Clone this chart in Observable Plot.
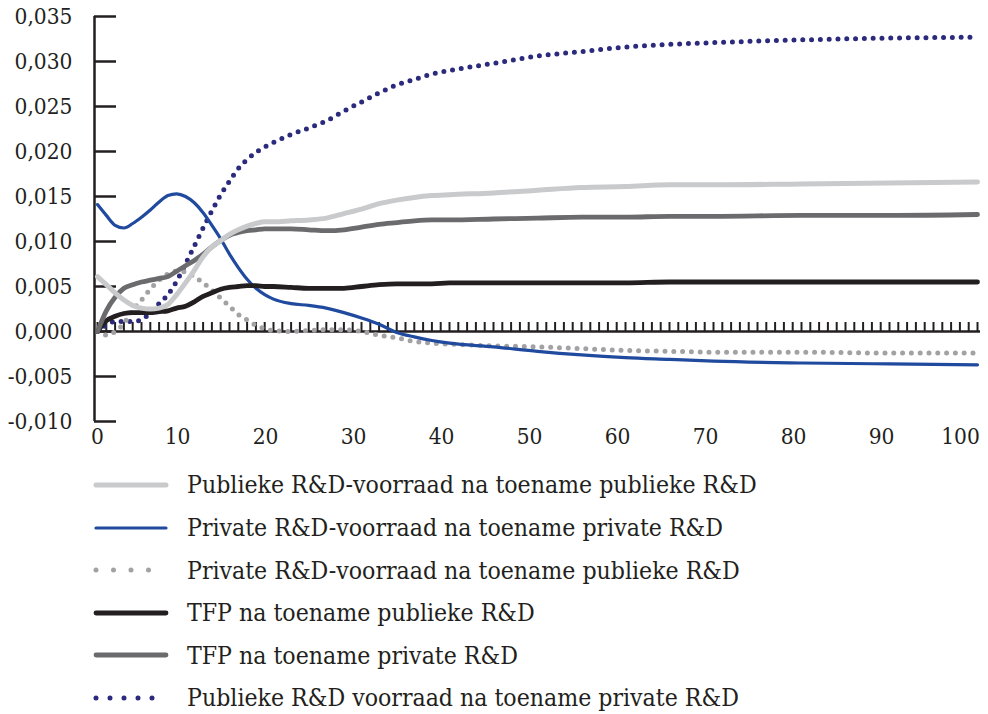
<!DOCTYPE html>
<html>
<head>
<meta charset="utf-8">
<script src="https://cdn.jsdelivr.net/npm/d3@7"></script>
<script src="https://cdn.jsdelivr.net/npm/@observablehq/plot@0.6"></script>
<style>
  body { margin: 0; background: #fff; }
  #wrap { position: relative; width: 988px; height: 714px; font-family: "DejaVu Serif Condensed", "DejaVu Serif", serif; font-stretch: condensed; color: #231f20; }
  #legend { position: absolute; left: 0; top: 455px; padding-top: 8.7px; }
  .row { height: 42.6px; display: flex; align-items: center; }
  .row svg { margin-left: 92px; margin-right: 17px; }
  .row span { font-size: 24.6px; white-space: nowrap; }
</style>
</head>
<body>
<div id="wrap"><div id="chart"></div><div id="legend"></div></div>
<script>
// Periods (years after the shock)
const periods = [0,1,2,3,4,5,6,7,8,9,10,11,12,13,14,15,16,17,18,19,20,22,24,26,28,30,32,34,36,38,40,45,50,55,60,65,70,80,90,100];

// Series values
const publiekeVoorraadNaPubliek = [0.0061,0.0052,0.0043,0.0035,0.0029,0.0026,0.0025,0.0026,0.0030,0.0041,0.0054,0.0068,0.0083,0.0094,0.0101,0.0108,0.0113,0.0117,0.0120,0.0122,0.0122,0.0123,0.0124,0.0126,0.0131,0.0136,0.0142,0.0146,0.0149,0.0151,0.0152,0.0154,0.0157,0.0160,0.0161,0.0163,0.0163,0.0164,0.0165,0.0166];
const privateVoorraadNaPrivate = [0.0141,0.0129,0.0118,0.0115,0.0120,0.0127,0.0135,0.0144,0.0151,0.0153,0.0150,0.0143,0.0132,0.0118,0.0103,0.0086,0.0071,0.0058,0.0048,0.0041,0.0036,0.0031,0.0029,0.0026,0.0021,0.0015,0.0008,-0.0001,-0.0006,-0.0010,-0.0013,-0.0017,-0.0022,-0.0026,-0.0029,-0.0031,-0.0033,-0.0035,-0.0036,-0.0037];
const privateVoorraadNaPubliek = [0.0000,-0.0004,0.0000,0.0009,0.0024,0.0035,0.0047,0.0057,0.0064,0.0067,0.0066,0.0061,0.0054,0.0046,0.0037,0.0028,0.0019,0.0013,0.0007,0.0003,0.0001,0.0000,0.0001,0.0002,0.0002,0.0000,-0.0004,-0.0007,-0.0011,-0.0013,-0.0014,-0.0016,-0.0017,-0.0019,-0.0021,-0.0022,-0.0023,-0.0023,-0.0024,-0.0024];
const tfpNaPubliek = [0.0000,0.0012,0.0017,0.0020,0.0021,0.0021,0.0021,0.0022,0.0023,0.0026,0.0028,0.0033,0.0039,0.0043,0.0047,0.0049,0.0050,0.0051,0.0051,0.0050,0.0050,0.0049,0.0048,0.0048,0.0048,0.0050,0.0052,0.0053,0.0053,0.0053,0.0054,0.0054,0.0054,0.0054,0.0054,0.0055,0.0055,0.0055,0.0055,0.0055];
const tfpNaPrivate = [0.0000,0.0023,0.0038,0.0048,0.0052,0.0055,0.0057,0.0059,0.0061,0.0067,0.0073,0.0079,0.0086,0.0094,0.0101,0.0107,0.0110,0.0112,0.0113,0.0114,0.0114,0.0114,0.0113,0.0112,0.0113,0.0116,0.0119,0.0121,0.0123,0.0124,0.0124,0.0125,0.0126,0.0127,0.0127,0.0128,0.0128,0.0129,0.0129,0.0130];
const publiekeVoorraadNaPrivate = [0.0000,0.0007,0.0011,0.0011,0.0011,0.0013,0.0021,0.0031,0.0041,0.0056,0.0075,0.0095,0.0115,0.0134,0.0152,0.0167,0.0181,0.0191,0.0199,0.0205,0.0210,0.0219,0.0226,0.0234,0.0245,0.0255,0.0265,0.0274,0.0280,0.0286,0.0290,0.0298,0.0306,0.0311,0.0316,0.0319,0.0321,0.0324,0.0326,0.0327];

// Labels and ticks
const seriesNames = [
  "Publieke R&D-voorraad na toename publieke R&D",
  "Private R&D-voorraad na toename private R&D",
  "Private R&D-voorraad na toename publieke R&D",
  "TFP na toename publieke R&D",
  "TFP na toename private R&D",
  "Publieke R&D voorraad na toename private R&D"
];
const yTicks = [-0.010,-0.005,0,0.005,0.010,0.015,0.020,0.025,0.030,0.035];
const xTickLabelsMain = [10,20,30,40,50,60,70,80,90];
const xTickLabelFirst = [0];
const xTickLabelLast = [100];
const xCombTicks = d3.range(0, 101);

// Styles (per series, same order as names)
const styles = [
  {stroke: "#c9cacc", strokeWidth: 5, dash: null, legendDash: null},
  {stroke: "#1f4a9e", strokeWidth: 3.2, dash: null, legendDash: null},
  {stroke: "#a2a2a5", strokeWidth: 5, dash: "0 8.8", legendDash: "0 17.5"},
  {stroke: "#231f20", strokeWidth: 4.8, dash: null, legendDash: null},
  {stroke: "#6b6b6d", strokeWidth: 4.8, dash: null, legendDash: null},
  {stroke: "#2b2a7c", strokeWidth: 5, dash: "0 8.8", legendDash: "0 14"}
];

const valuesBySeries = [publiekeVoorraadNaPubliek, privateVoorraadNaPrivate, privateVoorraadNaPubliek, tfpNaPubliek, tfpNaPrivate, publiekeVoorraadNaPrivate];
const rows = (s) => periods.map((p, i) => ({period: p, value: valuesBySeries[s][i]}));

const fmt = d => d.toFixed(3).replace(".", ",");
const drawOrder = [5, 2, 1, 3, 4, 0];
const ink = "#231f20";
const font = "'DejaVu Serif Condensed', 'DejaVu Serif', serif";

const lineMarks = drawOrder.map(s => Plot.line(rows(s), {
  x: "period", y: "value", curve: "monotone-x",
  stroke: styles[s].stroke, strokeWidth: styles[s].strokeWidth,
  strokeDasharray: styles[s].dash, strokeLinecap: "round", strokeLinejoin: "round"
}));

const chart = Plot.plot({
  width: 988,
  height: 455,
  marginTop: 16,
  marginBottom: 34,
  marginLeft: 97,
  marginRight: 11,
  style: {fontFamily: font, fontSize: "22.5px", color: ink, fontStretch: "condensed", background: "#fff"},
  x: {domain: [0, 100]},
  y: {domain: [-0.010, 0.035]},
  marks: [
    Plot.axisY(yTicks, {tickSize: -22, tickPadding: 44, dx: -3, tickFormat: fmt, stroke: ink, strokeWidth: 2.5, fill: ink, label: null}),
    Plot.axisX(xTickLabelFirst, {tickSize: 0, tickPadding: 7, fill: ink, label: null}),
    Plot.axisX(xTickLabelsMain, {tickSize: 0, tickPadding: 7, dx: -8, fill: ink, label: null}),
    Plot.axisX(xTickLabelLast, {tickSize: 0, tickPadding: 7, dx: -17, fill: ink, label: null}),
    Plot.ruleX([0], {stroke: ink, strokeWidth: 2.5, dx: -3}),
    Plot.ruleX(xCombTicks, {x: d => d, y1: 0, y2: 0, insetTop: -9, stroke: ink, strokeWidth: 2}),
    Plot.ruleY([0], {stroke: ink, strokeWidth: 2.5, insetLeft: -3, insetRight: -3}),
    ...lineMarks
  ]
});
document.getElementById("chart").appendChild(chart);

// Legend
const legend = document.getElementById("legend");
seriesNames.forEach((name, s) => {
  const row = document.createElement("div");
  row.className = "row";
  const st = styles[s];
  row.innerHTML = `<svg width="78" height="12"><line x1="4" y1="6" x2="74" y2="6" stroke="${st.stroke}" stroke-width="${st.strokeWidth}" stroke-linecap="round" ${st.legendDash ? `stroke-dasharray="${st.legendDash}"` : ""}/></svg><span></span>`;
  row.querySelector("span").textContent = name;
  legend.appendChild(row);
});
</script>
</body>
</html>
